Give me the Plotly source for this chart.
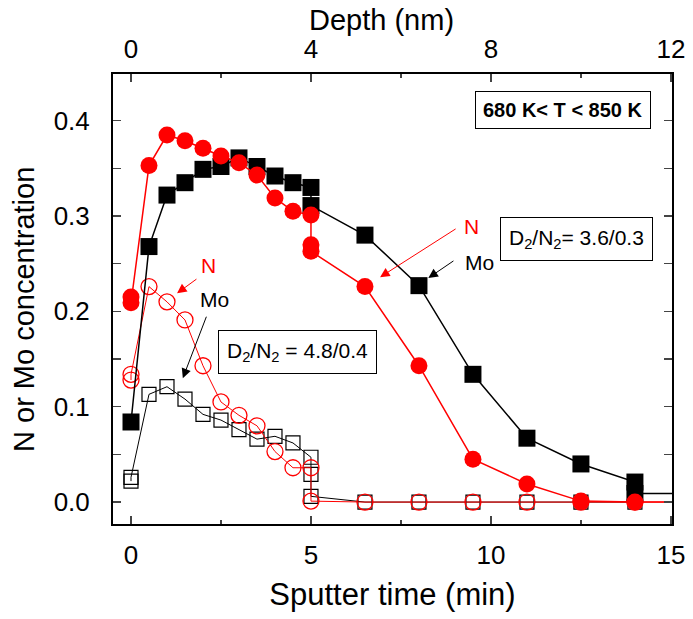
import plotly.graph_objects as go

# ---- data (sputter time in min, concentration) ----
t_mo_a = [0, 0.5, 1, 1.5, 2, 2.5, 3, 3.5, 4, 4.5, 5, 5, 6.5, 8, 9.5, 11, 12.5, 14, 14, 16]
mo_a = [0.084, 0.268, 0.322, 0.335, 0.349, 0.352, 0.361, 0.352, 0.342, 0.335, 0.330, 0.311,
        0.280, 0.227, 0.134, 0.067, 0.040, 0.021, 0.009, 0.009]

t_n_a = [0, 0, 0.5, 1, 1.5, 2, 2.5, 3, 3.5, 4, 4.5, 5, 5, 5, 6.5, 8, 9.5, 11, 12.5, 14, 16]
n_a = [0.215, 0.209, 0.353, 0.385, 0.379, 0.371, 0.363, 0.356, 0.343, 0.319, 0.305, 0.301,
       0.270, 0.263, 0.226, 0.143, 0.045, 0.019, 0.001, 0.0, 0.0]

t_n_b = [0, 0, 0.5, 1, 1.5, 2, 2.5, 3, 3.5, 4, 4.5, 5, 5, 6.5, 8, 9.5, 11, 12.5, 14, 16]
n_b = [0.128, 0.134, 0.226, 0.210, 0.191, 0.143, 0.105, 0.091, 0.080, 0.053, 0.036, 0.036,
       0.001, 0, 0, 0, 0, 0, 0, 0]

t_mo_b = [0, 0, 0.5, 1, 1.5, 2, 2.5, 3, 3.5, 4, 4.5, 5, 5, 5, 6.5, 8, 9.5, 11, 12.5, 14]
mo_b = [0.022, 0.026, 0.113, 0.121, 0.108, 0.092, 0.086, 0.076, 0.066, 0.069, 0.062, 0.047,
        0.029, 0.006, 0, 0, 0, 0, 0, 0]

x_ticks = [0, 5, 10, 15]
depth_ticks = [0, 4, 8, 12]
y_ticks = [0.0, 0.1, 0.2, 0.3, 0.4]
nm_per_min = 0.8

FONT = "Liberation Sans, Arial, sans-serif"
RED = "#ff0000"

fig = go.Figure()
fig.add_trace(go.Scatter(x=t_mo_b, y=mo_b, mode="lines+markers",
                         line=dict(color="black", width=1),
                         marker=dict(symbol="square-open", size=14, color="black", line=dict(width=1.2)),
                         showlegend=False))
fig.add_trace(go.Scatter(x=t_n_b, y=n_b, mode="lines+markers",
                         line=dict(color=RED, width=1),
                         marker=dict(symbol="circle-open", size=16, color=RED, line=dict(width=1.3)),
                         showlegend=False))
fig.add_trace(go.Scatter(x=t_mo_a, y=mo_a, mode="lines+markers",
                         line=dict(color="black", width=1.5),
                         marker=dict(symbol="square", size=17, color="black"),
                         showlegend=False))
fig.add_trace(go.Scatter(x=t_n_a, y=n_a, mode="lines+markers",
                         line=dict(color=RED, width=1.5),
                         marker=dict(symbol="circle", size=17, color=RED),
                         showlegend=False))
# invisible trace to activate the top depth axis
fig.add_trace(go.Scatter(x=[v * nm_per_min for v in t_mo_a], y=mo_a, xaxis="x2", mode="markers",
                         marker=dict(opacity=0), hoverinfo="skip", showlegend=False))

x_range = [-0.5, 15.03]
fig.update_layout(
    width=693, height=619,
    margin=dict(l=113, r=21, t=74, b=95),
    paper_bgcolor="white", plot_bgcolor="white",
    font=dict(family=FONT, color="black", size=26),
    xaxis=dict(range=x_range, tickvals=x_ticks, ticks="inside", ticklen=8, tickwidth=1.5,
               showline=True, linecolor="black", linewidth=2, mirror="ticks",
               showgrid=False, zeroline=False, automargin=False,
               minor=dict(dtick=2.5, ticks="inside", ticklen=4, tickwidth=1.5, showgrid=False),
               tickfont=dict(size=26), ticklabelstandoff=7,
               title=dict(text="Sputter time (min)", font=dict(size=31), standoff=14)),
    xaxis2=dict(range=[x_range[0] * nm_per_min, x_range[1] * nm_per_min], tickvals=depth_ticks,
                overlaying="x", side="top", ticks="", showline=False, showgrid=False, zeroline=False,
                automargin=False, tickfont=dict(size=26), ticklabelstandoff=10),
    yaxis=dict(range=[-0.023, 0.449], tickvals=y_ticks, tickformat=".1f",
               ticks="inside", ticklen=8, tickwidth=1.5,
               showline=True, linecolor="black", linewidth=2, mirror="ticks",
               showgrid=False, zeroline=False, automargin=False,
               minor=dict(dtick=0.05, ticks="inside", ticklen=8, tickwidth=1.5, showgrid=False),
               tickfont=dict(size=26), ticklabelstandoff=16),
)

ann = []
# axis titles placed as in the reference
ann.append(dict(x=0.48, y=(524 - 20) / 450, xref="paper", yref="paper", text="Depth (nm)",
                showarrow=False, font=dict(size=29, family=FONT), xanchor="center", yanchor="middle"))
ann.append(dict(x=(24 - 113) / 559, y=(524 - 310) / 450, xref="paper", yref="paper",
                text="N or Mo concentration", textangle=-90,
                showarrow=False, font=dict(size=29, family=FONT), xanchor="center", yanchor="middle"))
# boxes
ann.append(dict(x=12.01, y=0.411, xref="x", yref="y", text="<b>680 K&lt; T &lt; 850 K</b>",
                showarrow=False, font=dict(size=20, family=FONT), bordercolor="black",
                borderwidth=1, borderpad=7, bgcolor="white"))
ann.append(dict(x=12.39, y=0.276, xref="x", yref="y", text="D<sub>2</sub>/N<sub>2</sub>= 3.6/0.3",
                showarrow=False, font=dict(size=21, family=FONT), bordercolor="black",
                borderwidth=1, borderpad=8, bgcolor="white"))
ann.append(dict(x=4.625, y=0.1575, xref="x", yref="y", text="D<sub>2</sub>/N<sub>2</sub> = 4.8/0.4",
                showarrow=False, font=dict(size=21, family=FONT), bordercolor="black",
                borderwidth=1, borderpad=8, bgcolor="white"))
# labels
ann.append(dict(x=9.47, y=0.2887, xref="x", yref="y", text="N", showarrow=False,
                font=dict(size=21, family=FONT, color=RED)))
ann.append(dict(x=9.69, y=0.251, xref="x", yref="y", text="Mo", showarrow=False,
                font=dict(size=21, family=FONT, color="black")))
ann.append(dict(x=2.14, y=0.248, xref="x", yref="y", text="N", showarrow=False,
                font=dict(size=21, family=FONT, color=RED)))
ann.append(dict(x=2.31, y=0.212, xref="x", yref="y", text="Mo", showarrow=False,
                font=dict(size=21, family=FONT, color="black")))
# arrows
for (hx, hy, tx, ty, col) in [(6.92, 0.2359, 9.06, 0.2875, RED),
                              (8.26, 0.235, 9.0, 0.254, "black"),
                              (1.28, 0.219, 1.86, 0.235, RED),
                              (1.44, 0.130, 2.11, 0.196, "black")]:
    ann.append(dict(x=hx, y=hy, ax=tx, ay=ty, xref="x", yref="y", axref="x", ayref="y",
                    text="", showarrow=True, arrowhead=2, arrowsize=1.9, arrowwidth=1,
                    arrowcolor=col))
fig.update_layout(annotations=ann)

fig.write_html("out.html", config={"displayModeBar": False, "staticPlot": True},
               post_script="document.body.style.margin='0';document.body.style.overflow='hidden';")
